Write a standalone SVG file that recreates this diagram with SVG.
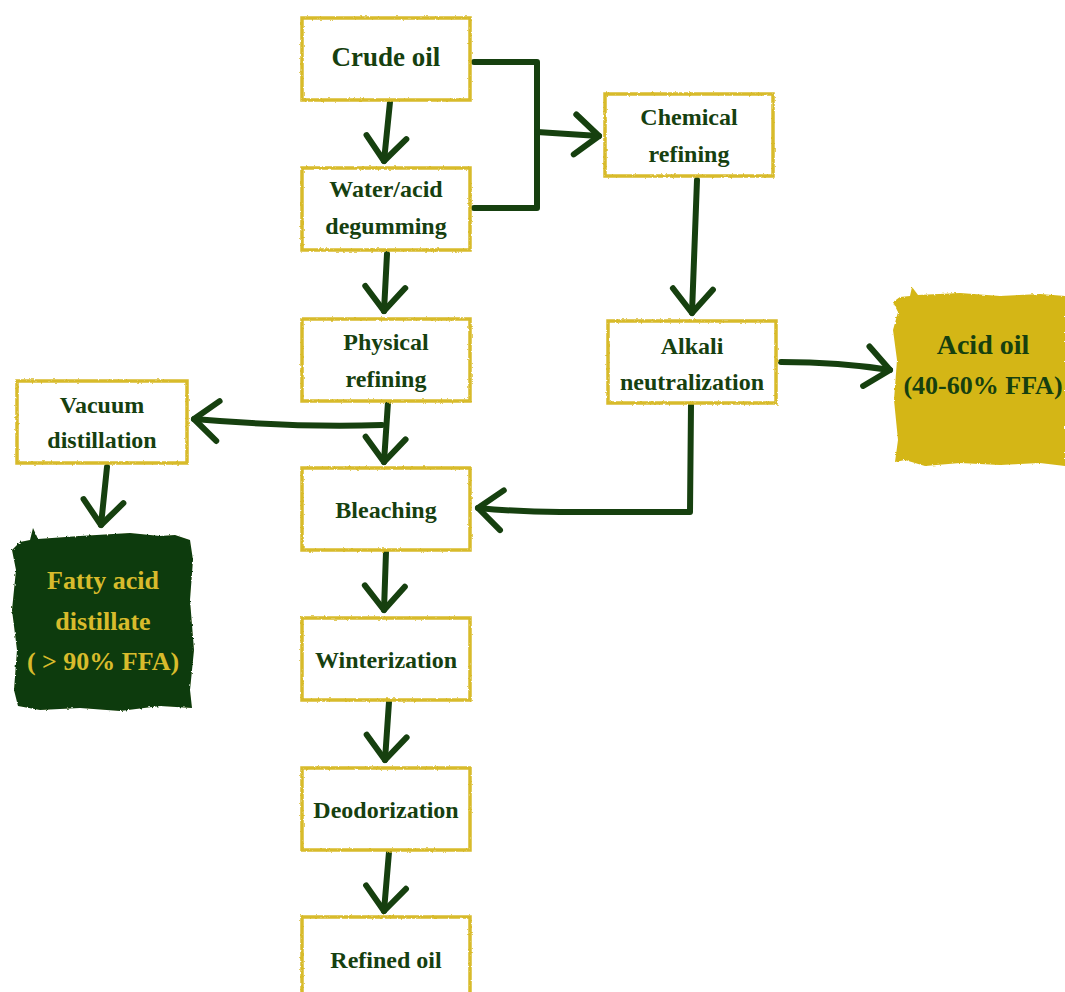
<svg xmlns="http://www.w3.org/2000/svg" width="1065" height="992" viewBox="0 0 1065 992">
<defs>
  <style>
    .box { fill: #ffffff; stroke: #d8bb2c; stroke-width: 3.5; }
    .box2 { fill: none; stroke: #e6d277; stroke-width: 1.2; }
    .t { font-family: "Liberation Serif", "DejaVu Serif", serif; font-weight: bold; fill: #16400f; text-anchor: middle; font-size: 24px; }
    .ty { fill: #d8bb2c; }
    .tg { fill: #16400f; }
    .ln { fill: none; stroke: #16400f; stroke-width: 6; stroke-linecap: round; stroke-linejoin: round; }
    .ar { fill: none; stroke: #16400f; stroke-width: 6; stroke-linecap: round; stroke-linejoin: round; marker-end: url(#vhead); }
  </style>
  <marker id="vhead" markerUnits="userSpaceOnUse" viewBox="-30 -26 34 52" refX="0" refY="0" markerWidth="34" markerHeight="52" orient="auto" overflow="visible">
    <path d="M-24,-20 L0,0 L-24,20" fill="none" stroke="#16400f" stroke-width="6" stroke-linecap="round" stroke-linejoin="round"/>
  </marker>
  <filter id="rough" x="-5%" y="-5%" width="110%" height="110%">
    <feTurbulence type="fractalNoise" baseFrequency="0.35" numOctaves="2" seed="3"/>
    <feDisplacementMap in="SourceGraphic" scale="2.5"/>
  </filter>
</defs>
<rect width="1065" height="992" fill="#ffffff"/>

<g id="connectors">
  <path class="ar" d="M390,102 L384,161"/>
  <path class="ln" d="M474,62 L537,62 L537,208 L474,208"/>
  <path class="ar" d="M537,132 L599,136"/>
  <path class="ar" d="M387,254 L384,311"/>
  <path class="ar" d="M388,402 L384,462"/>
  <path class="ar" d="M382,425 Q300,428 194,419"/>
  <path class="ar" d="M107,467 L101,525"/>
  <path class="ar" d="M697,180 L692,313"/>
  <path class="ar" d="M781,362 Q840,362 890,370"/>
  <path class="ln" d="M691,405 L690,512 L560,512"/>
  <path class="ar" d="M560,512 Q520,512 478,508"/>
  <path class="ar" d="M386,552 L384,610"/>
  <path class="ar" d="M389,702 L385,760"/>
  <path class="ar" d="M389,852 L384,911"/>
</g>

<g id="crude-oil">
  <rect class="box" x="302" y="18" width="168" height="82" filter="url(#rough)"/>
  <text class="t" x="386" y="66" style="font-size:27px">Crude oil</text>
</g>
<g id="water-acid-degumming">
  <rect class="box" x="302" y="168" width="168" height="82" filter="url(#rough)"/>
  <text class="t" x="386" y="197">Water/acid</text>
  <text class="t" x="386" y="234">degumming</text>
</g>
<g id="physical-refining">
  <rect class="box" x="302" y="319" width="168" height="82" filter="url(#rough)"/>
  <text class="t" x="386" y="350">Physical</text>
  <text class="t" x="386" y="387">refining</text>
</g>
<g id="bleaching">
  <rect class="box" x="302" y="468" width="168" height="82" filter="url(#rough)"/>
  <text class="t" x="386" y="518">Bleaching</text>
</g>
<g id="winterization">
  <rect class="box" x="302" y="618" width="168" height="82" filter="url(#rough)"/>
  <text class="t" x="386" y="668">Winterization</text>
</g>
<g id="deodorization">
  <rect class="box" x="302" y="768" width="168" height="82" filter="url(#rough)"/>
  <text class="t" x="386" y="818">Deodorization</text>
</g>
<g id="refined-oil">
  <rect class="box" x="302" y="917" width="168" height="90" filter="url(#rough)"/>
  <text class="t" x="386" y="968">Refined oil</text>
</g>
<g id="chemical-refining">
  <rect class="box" x="605" y="94" width="168" height="82" filter="url(#rough)"/>
  <text class="t" x="689" y="125">Chemical</text>
  <text class="t" x="689" y="162">refining</text>
</g>
<g id="alkali-neutralization">
  <rect class="box" x="608" y="321" width="168" height="82" filter="url(#rough)"/>
  <text class="t" x="692" y="354">Alkali</text>
  <text class="t" x="692" y="390">neutralization</text>
</g>
<g id="vacuum-distillation">
  <rect class="box" x="17" y="381" width="170" height="82" filter="url(#rough)"/>
  <text class="t" x="102" y="413">Vacuum</text>
  <text class="t" x="102" y="448">distillation</text>
</g>
<g id="acid-oil">
  <path fill="#d4b614" filter="url(#rough)" d="M900,297 L910,296 L912,287 L918,295 L960,293 L1000,296 L1040,294 L1065,296 L1065,466 L1040,463 L1000,465 L960,463 L925,466 L905,460 L895,462 L898,440 L894,400 L897,360 L893,330 L898,312 L893,302 Z"/>
  <text class="t tg" x="983" y="354" style="font-size:28px">Acid oil</text>
  <text class="t tg" x="983" y="394" style="font-size:26px">(40-60% FFA)</text>
</g>
<g id="fatty-acid-distillate">
  <path fill="#0f3a08" filter="url(#rough)" d="M20,542 L30,540 L33,528 L38,539 L80,536 L130,533 L160,536 L175,535 L190,540 L193,560 L190,600 L194,650 L190,690 L192,708 L160,706 L120,711 L80,708 L40,710 L18,706 L14,690 L17,650 L12,610 L16,570 L12,550 Z"/>
  <text class="t ty" x="103" y="589" style="font-size:26px">Fatty acid</text>
  <text class="t ty" x="103" y="630" style="font-size:26px">distillate</text>
  <text class="t ty" x="103" y="670" style="font-size:26px">( &gt; 90% FFA)</text>
</g>
</svg>
